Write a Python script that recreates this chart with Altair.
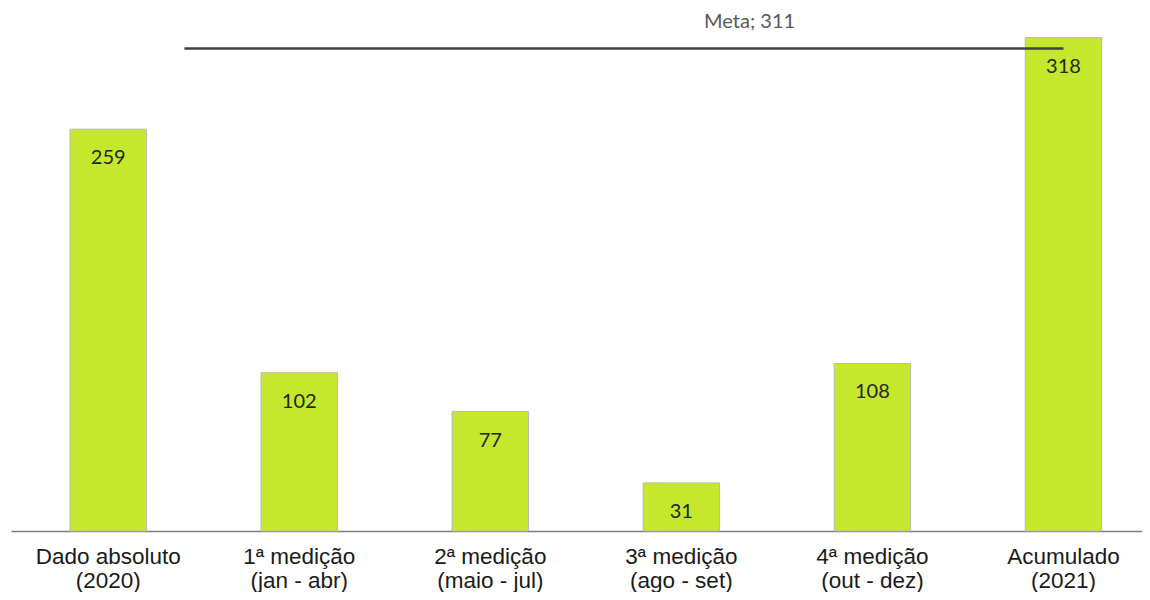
import altair as alt
import pandas as pd

categories = [
    "Dado absoluto|(2020)",
    "1ª medição|(jan - abr)",
    "2ª medição|(maio - jul)",
    "3ª medição|(ago - set)",
    "4ª medição|(out - dez)",
    "Acumulado|(2021)",
]
values = [259, 102, 77, 31, 108, 318]
meta_value = 311
meta_label = "Meta; 311"
meta_start = categories[0]
meta_end = categories[-1]
meta_text_at = categories[3]

df = pd.DataFrame({"cat": categories, "val": values})
meta_df = pd.DataFrame({"start": [meta_start], "end": [meta_end], "text_at": [meta_text_at],
                        "meta": [meta_value], "label": [meta_label]})

xscale = alt.Scale(domain=categories, paddingInner=0.6, paddingOuter=0.26, align=0.594)
yscale = alt.Scale(domain=[0, 330], nice=False)

x_enc = alt.X(
    "cat:N", scale=xscale, sort=categories, title=None,
    axis=alt.Axis(
        labelExpr="split(datum.label, '|')",
        labelAngle=0, labelFont="Liberation Sans", labelFontSize=22.5,
        labelLineHeight=24, labelColor="#1a1a1a", labelPadding=14,
        ticks=False, domainColor="#7f7f7f", domainWidth=1.5, grid=False,
        labelBaseline="top",
    ),
)

bars = alt.Chart(df).mark_bar(color="#c5e82c", stroke="#b8b8b8", strokeWidth=1).encode(
    x=x_enc,
    y=alt.Y("val:Q", scale=yscale, axis=None),
)

labels = alt.Chart(df).mark_text(
    font="Lato", fontSize=20, color="#262626", baseline="middle", dy=29
).encode(
    x=alt.X("cat:N", scale=xscale, sort=categories),
    y=alt.Y("val:Q", scale=yscale),
    text=alt.Text("val:Q"),
)

rule = alt.Chart(meta_df).mark_rule(color="#404040", strokeWidth=2.5, xOffset=38, x2Offset=0).encode(
    x=alt.X("start:N", scale=xscale, bandPosition=1),
    x2=alt.X2("end:N"),
    y=alt.Y("meta:Q", scale=yscale),
)

meta_text = alt.Chart(meta_df).mark_text(
    font="Lato", fontSize=20, color="#595959", baseline="middle", dy=-26, dx=30
).encode(
    x=alt.X("text_at:N", scale=xscale, bandPosition=1),
    y=alt.Y("meta:Q", scale=yscale),
    text="label:N",
)

chart = (bars + labels + rule + meta_text).properties(
    width=1131, height=512,
    padding={"left": 3, "right": 0, "top": 11, "bottom": 61},
    autosize=alt.AutoSizeParams(type="none"),
    background="white",
).configure_view(stroke=None, strokeWidth=0)

chart.save("out.html", embed_options={"renderer": "svg", "actions": False})
